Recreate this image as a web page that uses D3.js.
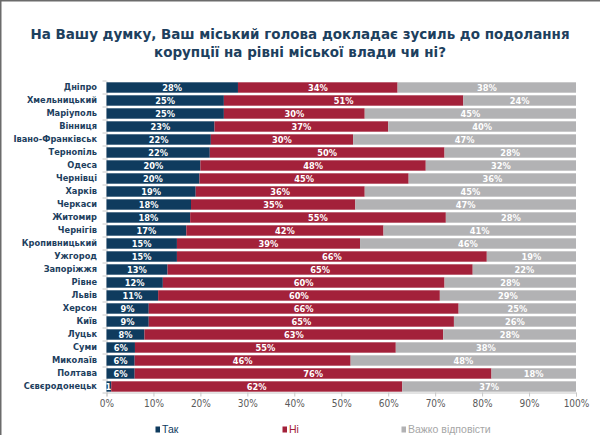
<!DOCTYPE html>
<html>
<head>
<meta charset="utf-8">
<script src="https://cdn.jsdelivr.net/npm/d3@7"></script>
<style>
  body { margin: 0; background: #fff; }
  svg { display: block; }
</style>
</head>
<body>
<script>
// дані
const cities = ["Дніпро", "Хмельницький", "Маріуполь", "Вінниця", "Івано-Франківськ", "Тернопіль",
  "Одеса", "Чернівці", "Харків", "Черкаси", "Житомир", "Чернігів", "Кропивницький", "Ужгород",
  "Запоріжжя", "Рівне", "Львів", "Херсон", "Київ", "Луцьк", "Суми", "Миколаїв", "Полтава", "Сєвєродонецьк"];
const yes  = [28, 25, 25, 23, 22, 22, 20, 20, 19, 18, 18, 17, 15, 15, 13, 12, 11, 9, 9, 8, 6, 6, 6, 1];
const no   = [34, 51, 30, 37, 30, 50, 48, 45, 36, 35, 55, 42, 39, 66, 65, 60, 60, 66, 65, 63, 55, 46, 76, 62];
const hard = [38, 24, 45, 40, 47, 28, 32, 36, 45, 47, 28, 41, 46, 19, 22, 28, 29, 25, 26, 28, 38, 48, 18, 37];
const seriesNames = ["Так", "Ні", "Важко відповісти"];
const tickValues = [0, 10, 20, 30, 40, 50, 60, 70, 80, 90, 100];

const colors = ["#0f3b5e", "#a3213a", "#b2b2b4"];
const textColors = ["#0f3b5e", "#a3213a", "#a6a6a6"];

const w = 600, h = 435;

const rows = cities.map((c, i) => ({ city: c, k0: yes[i], k1: no[i], k2: hard[i] }));
const keys = ["k0", "k1", "k2"];

// 100% stacked, як в Excel
const stack = d3.stack().keys(keys).offset(d3.stackOffsetExpand);
const series = stack(rows);

const x = d3.scaleLinear().domain([0, 1]).range([106.5, 576]);
const y = d3.scaleBand().domain(cities).range([81, 393]).paddingInner(0.2).paddingOuter(0.1);

const svg = d3.select("body").append("svg")
  .attr("width", w)
  .attr("height", h);

// рамка зверху і зліва як на скріншоті
svg.append("line").attr("x1", 0).attr("x2", w).attr("y1", 0.75).attr("y2", 0.75)
  .attr("stroke", "#6b6b6b").attr("stroke-width", 1.5);
svg.append("line").attr("x1", 0.75).attr("x2", 0.75).attr("y1", 0).attr("y2", h)
  .attr("stroke", "#6b6b6b").attr("stroke-width", 1.5);

// заголовок
const titleLines = ["На Вашу думку, Ваш міський голова докладає зусиль до подолання",
  "корупції на рівні міської влади чи ні?"];
const title = svg.append("g").attr("class", "title");
titleLines.forEach((t, i) => {
  title.append("text")
    .attr("x", 300)
    .attr("y", 39 + i * 18)
    .attr("text-anchor", "middle")
    .style("font-family", "DejaVu Sans")
    .style("font-weight", "bold")
    .style("font-size", "15px")
    .style("fill", "#1d405e")
    .text(t);
});
// підганяю ширину першого рядка під ~540px
const tl = title.select("text").node().getComputedTextLength();
title.selectAll("text").style("font-size", (15 * 540 / tl) + "px");

// осі
const xAxis = d3.axisBottom(x)
  .tickValues(tickValues.map(d => d / 100))
  .tickFormat(d3.format(".0%"))
  .tickSize(4)
  .tickPadding(3);

const gx = svg.append("g")
  .attr("id", "x-axis")
  .attr("transform", "translate(0," + 392.5 + ")")
  .call(xAxis);
gx.select(".domain").attr("stroke", "#c8c8c8");
gx.selectAll(".tick line").attr("stroke", "#c8c8c8");
gx.selectAll(".tick text")
  .style("font-family", "DejaVu Sans Condensed, DejaVu Sans")
  .style("font-size", "10px")
  .style("fill", "#5a5a5a");

const yAxis = d3.axisLeft(y).tickSize(0).tickPadding(9.5);
const gy = svg.append("g")
  .attr("id", "y-axis")
  .attr("transform", "translate(" + x(0) + ",0)")
  .call(yAxis);
gy.select(".domain").attr("stroke", "#c8c8c8");
gy.selectAll(".tick text")
  .style("font-family", "DejaVu Sans Condensed, DejaVu Sans")
  .style("font-weight", "bold")
  .style("font-size", "9.2px")
  .style("fill", "#1d405e");

// маленькі рисочки між категоріями
const half = y.step() * y.paddingInner() / 2;
const seps = cities.map(c => y(c) - half).concat([y(cities[cities.length - 1]) + y.bandwidth() + half]);
svg.append("g").selectAll("line")
  .data(seps)
  .enter()
  .append("line")
  .attr("x1", x(0) - 4)
  .attr("x2", x(0))
  .attr("y1", d => d)
  .attr("y2", d => d)
  .attr("stroke", "#c8c8c8");

// бари
const groups = svg.append("g").selectAll("g")
  .data(series)
  .enter()
  .append("g")
  .attr("fill", (d, i) => colors[i]);

groups.selectAll("rect")
  .data(d => d)
  .enter()
  .append("rect")
  .attr("x", d => x(d[0]))
  .attr("y", d => y(d.data.city))
  .attr("width", d => x(d[1]) - x(d[0]))
  .attr("height", y.bandwidth());

// підписи значень
groups.selectAll("text")
  .data((d, i) => d.map(p => ({ p: p, key: keys[i] })))
  .enter()
  .append("text")
  .attr("x", d => Math.max((x(d.p[0]) + x(d.p[1])) / 2, x(0) + 6))
  .attr("y", d => y(d.p.data.city) + y.bandwidth() / 2)
  .attr("dy", "0.35em")
  .attr("text-anchor", "middle")
  .style("font-family", "DejaVu Sans Condensed, DejaVu Sans")
  .style("font-weight", "bold")
  .style("font-size", "9.2px")
  .style("fill", "#fff")
  .text(d => d.p.data[d.key] + "%");

// легенда
const legendX = [155.5, 282.5, 401.5];
const legend = svg.append("g").selectAll("g")
  .data(seriesNames)
  .enter()
  .append("g")
  .attr("transform", (d, i) => "translate(" + legendX[i] + ",429.5)");
legend.append("rect")
  .attr("x", 0).attr("y", -3)
  .attr("width", 4.5).attr("height", 6)
  .attr("fill", (d, i) => colors[i]);
legend.append("text")
  .attr("x", 6.5)
  .attr("dy", "0.35em")
  .style("font-family", "Liberation Sans, Arial")
  .style("font-size", "10.5px")
  .style("fill", (d, i) => textColors[i])
  .text(d => d);
</script>
</body>
</html>
